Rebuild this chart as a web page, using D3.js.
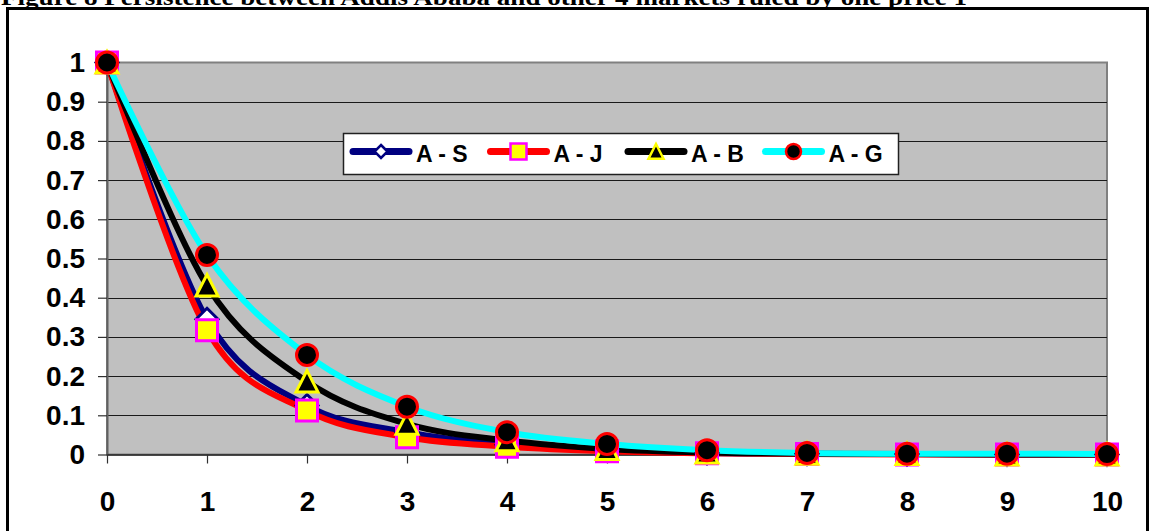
<!DOCTYPE html>
<html>
<head>
<meta charset="utf-8">
<script src="https://cdn.jsdelivr.net/npm/d3@7"></script>
<style>
  html, body { margin: 0; padding: 0; background: #ffffff; }
  svg { display: block; }
</style>
</head>
<body>
<svg id="chart" width="1153" height="531"></svg>
<script>
// Lags (periods after the shock)
const lags = [0, 1, 2, 3, 4, 5, 6, 7, 8, 9, 10];

// Persistence profiles of the price deviation, Addis Ababa against each market
const seriesNames = ["A - S", "A - J", "A - B", "A - G"];
const valuesAS = [1, 0.345, 0.125, 0.057, 0.025, 0.011, 0.004, 0.002, 0.001, 0, 0];
const valuesAJ = [1, 0.317, 0.112, 0.044, 0.020, 0.008, 0.003, 0.001, 0, 0, 0];
const valuesAB = [1, 0.431, 0.186, 0.078, 0.036, 0.014, 0.005, 0.002, 0.001, 0, 0];
const valuesAG = [1, 0.509, 0.254, 0.122, 0.057, 0.027, 0.011, 0.004, 0.002, 0.002, 0.001];

const yTicks = [0, 0.1, 0.2, 0.3, 0.4, 0.5, 0.6, 0.7, 0.8, 0.9, 1];
const yTickLabels = ["0", "0.1", "0.2", "0.3", "0.4", "0.5", "0.6", "0.7", "0.8", "0.9", "1"];
const xTickLabels = ["0", "1", "2", "3", "4", "5", "6", "7", "8", "9", "10"];

const titleText = "Figure 8 Persistence between Addis Ababa and other 4 markets ruled by one price 1";

const series = [
  { name: seriesNames[0], values: valuesAS, line: "#000080", shape: "diamond",  fill: "#ffffff", stroke: "#000080" },
  { name: seriesNames[1], values: valuesAJ, line: "#ff0000", shape: "square",   fill: "#ffff00", stroke: "#ff00ff" },
  { name: seriesNames[2], values: valuesAB, line: "#000000", shape: "triangle", fill: "#000000", stroke: "#ffff00" },
  { name: seriesNames[3], values: valuesAG, line: "#00ffff", shape: "circle",   fill: "#000000", stroke: "#ff0000" }
];

const svg = d3.select("#chart");
const FONT = "'Liberation Sans', Arial, Helvetica, sans-serif";

// Caption above the framed chart (clipped by the page top)
svg.append("text")
  .attr("x", 1).attr("y", 5)
  .attr("font-family", "'Liberation Serif', 'Times New Roman', serif")
  .attr("font-weight", "bold")
  .attr("font-size", 24)
  .attr("textLength", 966)
  .attr("lengthAdjust", "spacingAndGlyphs")
  .text(titleText);

// Chart frame
svg.append("rect")
  .attr("x", 7.5).attr("y", 8.5)
  .attr("width", 1140).attr("height", 560)
  .attr("fill", "#ffffff")
  .attr("stroke", "#000000")
  .attr("stroke-width", 3);

const plot = { left: 107, right: 1107, top: 62.5, bottom: 454.5 };

const x = d3.scaleLinear().domain([0, 10]).range([plot.left, plot.right]);
const y = d3.scaleLinear().domain([0, 1]).range([plot.bottom, plot.top]);

// Plot area background
svg.append("rect")
  .attr("x", plot.left).attr("y", plot.top)
  .attr("width", plot.right - plot.left).attr("height", plot.bottom - plot.top)
  .attr("fill", "#c0c0c0")
  .attr("stroke", "#808080")
  .attr("stroke-width", 2);

// Horizontal gridlines
svg.append("g")
  .selectAll("line")
  .data(yTicks.filter(v => v > 0 && v < 1))
  .join("line")
  .attr("x1", plot.left).attr("x2", plot.right)
  .attr("y1", d => Math.round(y(d)) + 0.5).attr("y2", d => Math.round(y(d)) + 0.5)
  .attr("stroke", "#1a1a1a")
  .attr("stroke-width", 1.2);

// Y axis
const yAxis = svg.append("g")
  .attr("transform", `translate(${plot.left},0)`)
  .call(d3.axisLeft(y)
    .tickValues(yTicks)
    .tickFormat((d, i) => yTickLabels[i])
    .tickSizeInner(9)
    .tickSizeOuter(0)
    .tickPadding(13));
yAxis.select(".domain").attr("stroke", "#606060").attr("stroke-width", 2);
yAxis.selectAll(".tick line").attr("stroke", "#303030").attr("stroke-width", 1.2);
yAxis.selectAll(".tick text")
  .attr("font-family", FONT).attr("font-weight", "bold").attr("font-size", 28)
  .attr("fill", "#000000");

// X axis
const xAxis = svg.append("g")
  .attr("transform", `translate(0,${plot.bottom})`)
  .call(d3.axisBottom(x)
    .tickValues(lags)
    .tickFormat((d, i) => xTickLabels[i])
    .tickSizeInner(9)
    .tickSizeOuter(0)
    .tickPadding(28));
xAxis.select(".domain").attr("stroke", "#202020").attr("stroke-width", 1.5);
xAxis.selectAll(".tick line").attr("stroke", "#303030").attr("stroke-width", 1.2);
xAxis.selectAll(".tick text")
  .attr("font-family", FONT).attr("font-weight", "bold").attr("font-size", 28)
  .attr("fill", "#000000");

// Marker shapes
function markerPath(shape, size) {
  const h = size / 2;
  switch (shape) {
    case "diamond":  return `M0,${-h}L${h},0L0,${h}L${-h},0Z`;
    case "square":   return `M${-h},${-h}H${h}V${h}H${-h}Z`;
    case "triangle": return `M0,${-h}L${h},${h * 0.95}L${-h},${h * 0.95}Z`;
    default:         return `M${h},0A${h},${h} 0 1,1 ${-h},0A${h},${h} 0 1,1 ${h},0Z`;
  }
}
const plotMarkerSize = { diamond: 22, square: 21, triangle: 22, circle: 21 };
const legendMarkerSize = { diamond: 13, square: 16, triangle: 15, circle: 15 };

// Smoothed series lines
const line = d3.line()
  .x((d, i) => x(lags[i]))
  .y(d => y(d))
  .curve(d3.curveCardinal.tension(0));

const linesG = svg.append("g");
series.forEach(s => {
  linesG.append("path")
    .attr("d", line(s.values))
    .attr("fill", "none")
    .attr("stroke", s.line)
    .attr("stroke-width", 6)
    .attr("stroke-linejoin", "round")
    .attr("stroke-linecap", "round");
});

// Series markers
const markersG = svg.append("g");
series.forEach(s => {
  markersG.append("g")
    .selectAll("path")
    .data(s.values)
    .join("path")
    .attr("transform", (d, i) => `translate(${x(lags[i])},${y(d)})`)
    .attr("d", markerPath(s.shape, plotMarkerSize[s.shape]))
    .attr("fill", s.fill)
    .attr("stroke", s.stroke)
    .attr("stroke-width", 3);
});

// Legend
const legend = { x: 343, y: 133, w: 555, h: 41 };
const lg = svg.append("g");
lg.append("rect")
  .attr("x", legend.x + 0.5).attr("y", legend.y + 0.5)
  .attr("width", legend.w).attr("height", legend.h)
  .attr("fill", "#ffffff")
  .attr("stroke", "#202020")
  .attr("stroke-width", 1.5);

const entryX = d3.scalePoint()
  .domain(seriesNames)
  .range([legend.x + 7, legend.x + 7 + 3 * 137.5]);

series.forEach(s => {
  const x0 = entryX(s.name);
  const cy = legend.y + 18.5;
  const item = lg.append("g");
  item.append("line")
    .attr("x1", x0 + 3).attr("x2", x0 + 59)
    .attr("y1", cy).attr("y2", cy)
    .attr("stroke", s.line)
    .attr("stroke-width", 7)
    .attr("stroke-linecap", "round");
  item.append("path")
    .attr("transform", `translate(${x0 + 31},${cy})`)
    .attr("d", markerPath(s.shape, legendMarkerSize[s.shape]))
    .attr("fill", s.fill)
    .attr("stroke", s.stroke)
    .attr("stroke-width", 2.5);
  item.append("text")
    .attr("x", x0 + 66).attr("y", legend.y + 29)
    .attr("font-family", FONT).attr("font-weight", "bold").attr("font-size", 23)
    .attr("fill", "#000000")
    .text(s.name);
});
</script>
</body>
</html>
